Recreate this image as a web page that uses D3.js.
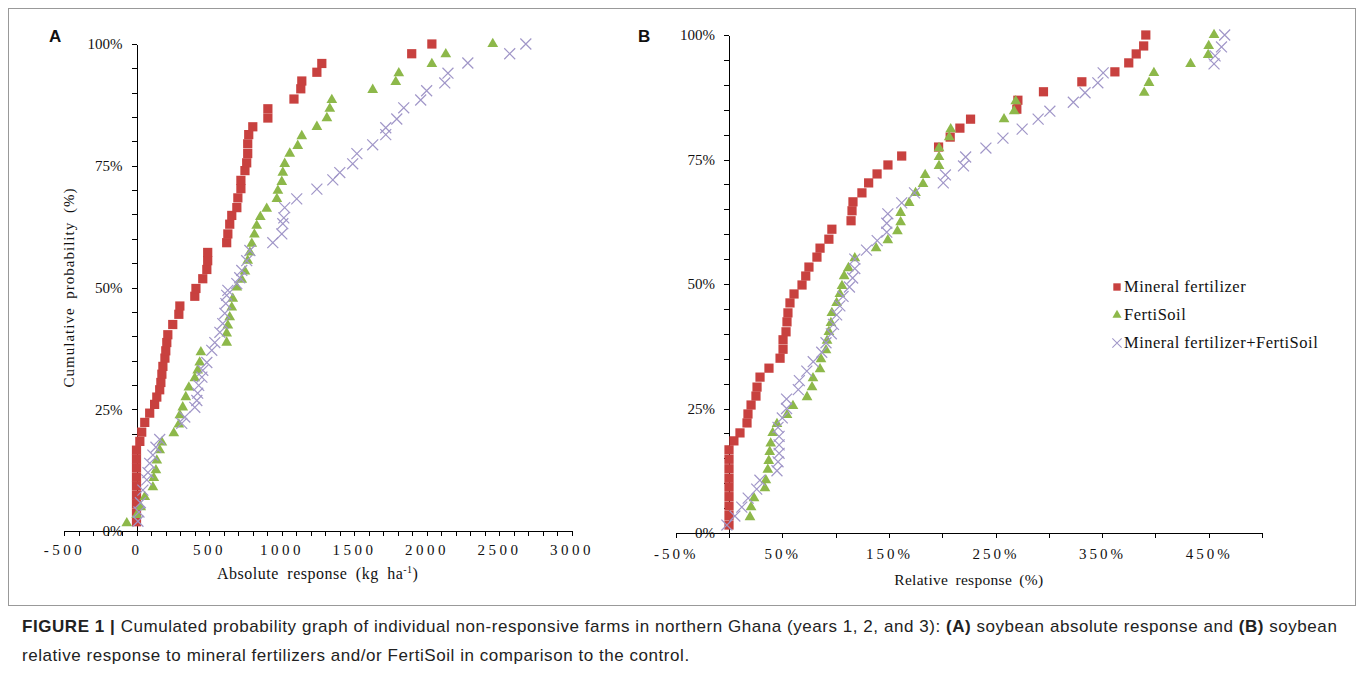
<!doctype html>
<html>
<head>
<meta charset="utf-8">
<script src="https://d3js.org/d3.v7.min.js"></script>
<style>
body { margin: 0; background: #fff; }
svg text { font-family: "Liberation Serif", "Times New Roman", serif; fill: #111; }
.axis path, .axis line { stroke: #000; stroke-width: 1; shape-rendering: crispEdges; }
.axis text { font-size: 15px; font-family: "Liberation Serif", serif; }
.xa text { letter-spacing: 3.5px; }
.xb text { letter-spacing: 3px; }
.panel { font-family: "Liberation Sans", Arial, sans-serif !important; font-weight: bold; font-size: 17px; }
.caption { font-family: "Liberation Sans", Arial, sans-serif !important; font-size: 17px; letter-spacing: 0.55px; fill: #222; }
</style>
</head>
<body>
<svg width="1357" height="679" id="fig"></svg>

<script type="text/javascript">
// panel A: absolute response (kg/ha) and cumulative probability (%)
var absMineral = [0,0,0,0,0,0,0,0,0,23,36,57,91,125,140,160,168,175,182,196,202,209,216,250,292,299,402,410,457,485,491,491,622,630,643,657,692,699,720,720,748,760,767,767,774,802,906,906,1086,1133,1140,1244,1278,1898,2037];
var absMineralP = [1.9,3.7,5.6,7.4,9.3,11.1,13,14.8,16.6,18.4,20.3,22.3,24.2,26.0,27.5,29.0,30.5,32.2,33.8,35.5,37.0,38.7,40.3,42.4,44.5,46.2,48.2,49.8,51.8,53.7,55.5,57.2,59.2,61.0,63.0,64.8,66.4,68.4,70.3,72.0,74.0,75.6,77.5,79.5,81.4,83.0,84.8,86.7,88.7,90.8,92.4,94.2,96.0,98.0,100];
var absFerti = [-67,2,29,57,113,119,134,140,160,175,257,292,299,319,340,361,402,422,436,444,622,622,630,643,657,664,692,726,748,767,782,795,813,829,854,898,968,975,1002,1009,1022,1057,1112,1140,1244,1313,1333,1347,1629,1788,1809,2037,2133,2457];
var absFertiP = [1.6,3.3,4.9,7.0,9.0,10.9,12.5,14.5,16.6,18.2,20.1,21.9,23.8,25.4,27.5,29.5,31.4,33.0,34.6,36.7,38.7,40.6,42.2,43.9,45.9,47.7,50.0,51.6,53.3,55.5,57.2,59.0,60.9,62.7,64.5,66.2,68.2,69.9,71.7,73.6,75.4,77.5,79.1,81.1,83.0,84.8,86.7,88.5,90.6,92.2,94.0,95.9,97.9,100];
var absBoth = [10,17,27,44,71,79,91,113,134,160,312,333,402,416,422,429,451,457,485,519,540,575,595,609,616,622,630,692,712,726,760,782,940,1002,1009,1016,1022,1105,1244,1354,1402,1491,1520,1629,1719,1719,1795,1843,1960,2001,2126,2148,2285,2574,2685];
var absBothP = [2.0,3.9,5.8,8.4,10.5,12.0,13.9,15.6,17.2,18.8,22.1,23.4,25.4,26.8,28.3,29.9,31.6,33.0,34.6,37.1,38.7,40.8,42.6,44.7,46.7,48.4,49.4,50.8,52.0,53.5,55.5,57.6,59.2,61.0,63.1,64.3,66.4,68.2,70.2,72.1,73.6,75.4,77.5,79.3,81.4,82.8,84.6,86.9,88.5,90.4,92.0,94.0,96.1,98.0,100];

// panel B: relative response (%) and cumulative probability (%)
var relMineral = [0,0,0,0,0,0,0,0,0,4.6,10.3,16.9,17.8,20.7,25.3,26.3,29.1,37.5,47.9,50.7,50.7,53.5,54.4,55.3,57.2,61,68.5,72,75,82.5,85.4,93.7,96.5,114.5,115.4,116.3,124.7,131,138.9,149.1,162,196.6,207.5,216.6,226.6,270,271,295,331,362,375,382,389,391];
var relMineralP = [1.6,3.5,5.4,7.3,9.2,11.0,12.9,14.8,16.7,18.5,20.1,22.1,23.9,25.7,27.5,29.3,31.3,33.1,35.1,36.9,38.8,40.4,42.4,44.2,46.2,48.0,49.8,51.6,53.4,55.4,57.2,59.0,61.0,62.7,64.7,66.5,68.3,70.3,72.1,73.9,75.7,77.5,79.5,81.3,83.1,85.1,86.9,88.6,90.6,92.6,94.4,96.2,97.8,100];
var relFerti = [19.7,20.7,23.5,33.7,34.6,36.4,37.3,38.2,39.1,41,45,54.4,60,73.2,77.9,78.8,85.4,86.3,91,92,93.7,95.6,96.5,101,104,106,108,112,118,138,149,158,161,161,169,175,182,184,197,197,197,206.6,208,258,267.5,269,389.5,394,398.6,433,449.5,450,455];
var relFertiP = [3.2,5.2,7.0,9.0,10.6,12.7,14.5,16.3,18.0,20.1,21.9,23.7,25.5,27.3,29.3,31.1,32.9,34.9,36.7,38.6,40.4,42.2,44.2,46.2,48.0,49.6,51.6,53.2,55.2,57.2,58.8,60.6,62.4,64.3,66.3,68.3,70.1,71.9,73.7,75.5,77.3,79.5,81.1,83.1,84.7,86.7,88.4,90.4,92.4,94.2,96.0,97.8,100];
var relBoth = [-2,5.5,12,18,26,29,45,46,47,47,47,46,50,54,54,65,66,73,79,87,91,96,98,101,104,107,113,116,118,118,129,139,148,148,149,162,174,201,203,220,222,241,257,275,290,301,323,334,346,351,455,456,462,465];
var relBothP = [1.6,3.4,5.2,7.0,8.8,10.6,12.5,14.3,16.0,17.7,19.4,21.2,23.1,25.0,26.9,28.8,30.6,32.5,34.4,36.3,38.2,40.0,41.9,43.8,45.6,47.5,49.4,51.2,53.1,55.0,56.8,58.7,60.4,62.2,64.1,66.3,68.3,70.3,71.9,73.7,75.5,77.3,79.3,81.1,83.1,84.7,86.5,88.4,90.4,92.4,94.2,95.8,97.6,100];

var seriesNames = ["Mineral fertilizer", "FertiSoil", "Mineral fertilizer+FertiSoil"];
var colors = ["#c8413f", "#8db84a", "#a096c8"];

var svg = d3.select("#fig");
svg.append("rect").attr("x", 8.5).attr("y", 8.5).attr("width", 1347).attr("height", 597)
  .attr("fill", "none").attr("stroke", "#999");

var xA = d3.scaleLinear().domain([-500, 3000]).range([64, 571.5]);
var yA = d3.scaleLinear().domain([0, 100]).range([531, 44]);
var xB = d3.scaleLinear().domain([-50, 500]).range([675.7, 1262]);
var yB = d3.scaleLinear().domain([0, 100]).range([533, 35]);

function pct(d) { return d3.format("d")(d) + "%"; }

// axes A
svg.append("g").attr("class", "axis xa").attr("transform", "translate(0," + yA(0) + ")")
  .call(d3.axisBottom(xA).tickValues(d3.range(-500, 3001, 100)).tickSize(5).tickSizeOuter(0).tickPadding(8)
    .tickFormat(function(d) { return d % 500 === 0 ? (d < 0 ? "-" + (-d) : d) : ""; }));
svg.append("g").attr("class", "axis").attr("transform", "translate(" + xA(0) + ",0)")
  .call(d3.axisLeft(yA).tickValues(d3.range(0, 101, 5)).tickSize(5).tickSizeOuter(0).tickPadding(9)
    .tickFormat(function(d) { return d % 25 === 0 ? pct(d) : ""; }));

// axes B
svg.append("g").attr("class", "axis xb").attr("transform", "translate(0," + yB(0) + ")")
  .call(d3.axisBottom(xB).tickValues(d3.range(-50, 501, 50)).tickSize(5).tickSizeOuter(0).tickPadding(10)
    .tickFormat(function(d) { return (d + 50) % 100 === 0 ? (d < 0 ? "-" + (-d) + "%" : d + "%") : ""; }));
svg.append("g").attr("class", "axis").attr("transform", "translate(" + xB(0) + ",0)")
  .call(d3.axisLeft(yB).tickValues(d3.range(0, 101, 5)).tickSize(5).tickSizeOuter(0).tickPadding(9)
    .tickFormat(function(d) { return d % 25 === 0 ? pct(d) : ""; }));

var symbols = [d3.symbol().type(d3.symbolSquare).size(85),
               d3.symbol().type(d3.symbolTriangle).size(50),
               d3.symbol().type(d3.symbolX).size(80)];

function drawSeries(xs, ps, k, sx, sy) {
  var pts = xs.map(function(v, i) { return [v, ps[i]]; });
  svg.append("g").selectAll("path").data(pts).enter().append("path")
    .attr("transform", function(d) { return "translate(" + sx(d[0]) + "," + sy(d[1]) + ")"; })
    .attr("d", symbols[k])
    .attr("fill", k === 2 ? "none" : colors[k])
    .attr("stroke", k === 2 ? colors[k] : "none")
    .attr("stroke-width", 1.2);
}

drawSeries(absMineral, absMineralP, 0, xA, yA);
drawSeries(absFerti, absFertiP, 1, xA, yA);
drawSeries(absBoth, absBothP, 2, xA, yA);
drawSeries(relMineral, relMineralP, 0, xB, yB);
drawSeries(relFerti, relFertiP, 1, xB, yB);
drawSeries(relBoth, relBothP, 2, xB, yB);

// axis titles
var tA = svg.append("text").attr("x", xA(1250)).attr("y", 579).attr("text-anchor", "middle")
  .style("font-size", "16px").style("letter-spacing", "0.5px").style("word-spacing", "4px");
tA.append("tspan").text("Absolute response (kg ha");
tA.append("tspan").attr("dy", -6).style("font-size", "10px").text("-1");
tA.append("tspan").attr("dy", 6).text(")");
svg.append("text").attr("x", xB(225)).attr("y", 585).attr("text-anchor", "middle")
  .style("font-size", "15.5px").style("letter-spacing", "0.3px").style("word-spacing", "3px")
  .text("Relative response (%)");
svg.append("text").attr("transform", "translate(74," + yA(50) + ") rotate(-90)")
  .attr("text-anchor", "middle").style("font-size", "15px").style("letter-spacing", "1px")
  .style("word-spacing", "4px").text("Cumulative probability (%)");

// panel letters
svg.append("text").attr("class", "panel").attr("x", 49).attr("y", 42).text("A");
svg.append("text").attr("class", "panel").attr("x", 638).attr("y", 42).text("B");

// legend
var lg = svg.append("g").attr("transform", "translate(1117,287)");
seriesNames.forEach(function(name, i) {
  var row = lg.append("g").attr("transform", "translate(0," + (i * 28) + ")");
  row.append("path").attr("d", symbols[i]).attr("transform", i === 0 ? "scale(0.8)" : "scale(0.85)")
    .attr("fill", i === 2 ? "none" : colors[i]).attr("stroke", i === 2 ? colors[i] : "none").attr("stroke-width", 1.2);
  row.append("text").attr("x", 7).attr("y", 5).style("font-size", "16.5px").style("letter-spacing", "0.5px").text(name);
});

// caption
var c1 = svg.append("text").attr("class", "caption").attr("x", 22).attr("y", 632);
c1.append("tspan").style("font-weight", "bold").text("FIGURE 1 | ");
c1.append("tspan").text("Cumulated probability graph of individual non-responsive farms in northern Ghana (years 1, 2, and 3): ");
c1.append("tspan").style("font-weight", "bold").text("(A)");
c1.append("tspan").text(" soybean absolute response and ");
c1.append("tspan").style("font-weight", "bold").text("(B)");
c1.append("tspan").text(" soybean");
svg.append("text").attr("class", "caption").attr("x", 22).attr("y", 661)
  .text("relative response to mineral fertilizers and/or FertiSoil in comparison to the control.");
</script>
</body>
</html>
